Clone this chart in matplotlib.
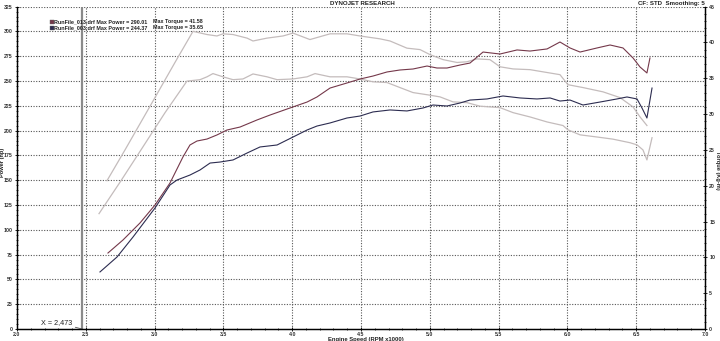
import matplotlib
matplotlib.use("Agg")
import matplotlib.pyplot as plt
from matplotlib.ticker import MultipleLocator

# ============================ #
# Data #
# ============================ #
# RunFile_013 power (hp)
rpm_pwr_013 = [2.661, 2.770, 2.894, 3.003, 3.112, 3.206, 3.257, 3.308, 3.381, 3.453,
               3.526, 3.621, 3.744, 3.839, 3.984, 4.108, 4.180, 4.275, 4.398, 4.493,
               4.587, 4.689, 4.783, 4.878, 4.980, 5.052, 5.125, 5.219, 5.292, 5.387,
               5.510, 5.634, 5.728, 5.852, 5.946, 6.019, 6.092, 6.215, 6.310, 6.404,
               6.477, 6.528, 6.578, 6.600]
hp_013 = [76.6, 89.7, 106.9, 125.0, 147.2, 173.4, 185.5, 189.5, 191.5, 195.6,
          200.6, 203.6, 210.7, 215.7, 222.8, 228.8, 233.9, 242.9, 248.0, 252.0,
          255.0, 259.1, 261.1, 262.1, 265.1, 263.1, 263.1, 266.1, 268.1, 279.2,
          277.2, 281.3, 280.2, 282.3, 289.3, 283.3, 279.2, 283.3, 286.3, 283.3,
          273.2, 264.1, 258.1, 273.2]

# RunFile_003 power (hp)
rpm_pwr_003 = [2.603, 2.727, 2.843, 3.003, 3.112, 3.163, 3.257, 3.330, 3.403, 3.475,
               3.570, 3.672, 3.766, 3.890, 3.984, 4.108, 4.180, 4.275, 4.398, 4.493,
               4.587, 4.711, 4.834, 4.951, 5.023, 5.125, 5.219, 5.292, 5.416, 5.532,
               5.656, 5.779, 5.874, 5.946, 6.019, 6.113, 6.237, 6.360, 6.433, 6.506,
               6.542, 6.578, 6.615]
hp_003 = [57.5, 72.6, 92.7, 122.0, 145.2, 150.2, 155.2, 160.3, 167.3, 168.3,
          170.4, 177.4, 183.5, 185.5, 192.0, 200.6, 204.6, 207.7, 212.7, 214.7,
          218.8, 220.8, 219.8, 222.8, 225.8, 224.8, 227.8, 230.8, 231.9, 234.9,
          232.9, 231.9, 232.9, 229.8, 230.8, 225.8, 228.8, 231.9, 233.9, 231.9,
          222.8, 212.7, 242.9]

# RunFile_013 torque (kg-m)
rpm_trq_013 = [2.654, 2.785, 2.967, 3.148, 3.279, 3.381, 3.453, 3.497, 3.570, 3.672,
               3.715, 3.817, 3.933, 4.006, 4.129, 4.275, 4.398, 4.493, 4.638, 4.711,
               4.834, 4.929, 5.001, 5.096, 5.198, 5.270, 5.343, 5.437, 5.510, 5.605,
               5.728, 5.852, 5.946, 6.004, 6.113, 6.259, 6.382, 6.477, 6.528, 6.578]
trq_013 = [20.7, 25.0, 31.1, 37.2, 41.55, 41.1, 40.9, 41.2, 41.1, 40.6,
           40.2, 40.6, 40.9, 41.3, 40.4, 41.2, 41.2, 40.9, 40.5, 40.2,
           39.2, 39.0, 38.3, 37.6, 37.2, 37.3, 37.7, 37.6, 36.6, 36.3,
           36.2, 35.8, 35.5, 34.1, 33.7, 33.1, 32.3, 31.0, 29.6, 28.4]

# RunFile_003 torque (kg-m)
rpm_trq_003 = [2.596, 2.749, 2.901, 3.076, 3.235, 3.330, 3.381, 3.424, 3.497, 3.570,
               3.642, 3.715, 3.817, 3.890, 4.006, 4.108, 4.166, 4.275, 4.398, 4.493,
               4.587, 4.689, 4.783, 4.878, 4.980, 5.074, 5.169, 5.270, 5.365, 5.437,
               5.510, 5.605, 5.728, 5.852, 5.968, 6.004, 6.092, 6.215, 6.331, 6.455,
               6.506, 6.549, 6.578, 6.615]
trq_003 = [16.1, 20.5, 25.0, 30.2, 34.6, 34.8, 35.2, 35.65, 35.2, 34.8,
           34.9, 35.6, 35.2, 34.8, 34.9, 35.2, 35.65, 35.2, 35.2, 34.9,
           34.5, 34.4, 33.7, 33.0, 32.7, 32.4, 31.7, 31.6, 31.1, 31.0,
           30.9, 30.2, 29.6, 28.9, 28.4, 27.8, 27.1, 26.8, 26.5, 26.0,
           25.7, 25.0, 23.6, 26.7]

legend_lines = ["RunFile_013.drf Max Power = 290.01", "RunFile_003.drf Max Power = 244.37"]
legend_torque = ["Max Torque = 41.58", "Max Torque = 35.65"]
cursor_x = 2.473

RED = "#74384a"
BLUE = "#2c2c50"
LIGHT = "#c4bcbc"
GRID = "#555555"
FS = 3.8
SMALL = dict(family="Liberation Sans", fontweight="bold", color="#222222")

# ============================ #
# Plotting                     #
# ============================ #
fig = plt.figure(figsize=(7.2, 3.41), dpi=100)
ax = fig.add_axes([17 / 720, 12 / 341, 688 / 720, 322.4 / 341])
ax2 = ax.twinx()

ax.set_xlim(2.0, 7.0)
ax.set_ylim(0, 325)
ax2.set_ylim(0, 45)

# grid
for v in range(25, 326, 25):
    ax.axhline(v, color=GRID, lw=0.8, ls=(0, (1, 1.4)), zorder=1)
for v in [2.5, 3.0, 3.5, 4.0, 4.5, 5.0, 5.5, 6.0, 6.5]:
    ax.axvline(v, color=GRID, lw=0.8, ls=(0, (1, 1.4)), zorder=1)

# cursor
ax.axvline(cursor_x, color="#8a8a8a", lw=1.6, zorder=2)
ax.annotate("X = 2,473", xy=(cursor_x, 0), xytext=(2.29, 6.5),
            fontsize=5.2, color="#222222", ha="center", va="center",
            family="Liberation Sans",
            arrowprops=dict(arrowstyle="-", color="#555555", lw=0.6,
                            shrinkA=11, shrinkB=0))

# curves
ax2.plot(rpm_trq_013, trq_013, color=LIGHT, lw=0.9, zorder=3)
ax2.plot(rpm_trq_003, trq_003, color=LIGHT, lw=0.9, zorder=3)
ax2.plot(rpm_pwr_013, [h * 45 / 325 for h in hp_013], color=RED, lw=0.8, zorder=4)
ax2.plot(rpm_pwr_003, [h * 45 / 325 for h in hp_003], color=BLUE, lw=0.8, zorder=4)

# ticks
ax.xaxis.set_major_locator(MultipleLocator(0.5))
ax.xaxis.set_minor_locator(MultipleLocator(0.1))
ax.yaxis.set_major_locator(MultipleLocator(25))
ax.yaxis.set_minor_locator(MultipleLocator(5))
ax2.yaxis.set_major_locator(MultipleLocator(5))
ax2.yaxis.set_minor_locator(MultipleLocator(1))
ax.xaxis.set_major_formatter(matplotlib.ticker.FormatStrFormatter("%.1f"))
for a in (ax, ax2):
    a.tick_params(which="major", direction="inout", length=3, width=0.6,
                  labelsize=FS, labelcolor="#333333", pad=1.5)
    a.tick_params(which="minor", direction="inout", length=1.6, width=0.5)
    for lab in a.get_xticklabels() + a.get_yticklabels():
        lab.set_family("Liberation Sans")
        lab.set_fontweight("bold")
ax.tick_params(axis="x", which="major", pad=0.6)

for s in ("left", "bottom", "right"):
    ax.spines[s].set_linewidth(0.9)
    ax2.spines[s].set_linewidth(0.9)
ax.spines["top"].set_visible(False)
ax2.spines["top"].set_visible(False)

# labels and header
fig.text(2.2 / 720, 1 - 162 / 341, "Power (hp)", rotation=90, fontsize=4.1,
         ha="center", va="center", **SMALL)
fig.text(717.8 / 720, 1 - 170 / 341, "Torque (Kg-m)", rotation=-90, fontsize=4.1,
         ha="center", va="center", **SMALL)
fig.text(366 / 720, 1 - 339.6 / 341, "Engine Speed (RPM x1000)", fontsize=4.2,
         ha="center", va="center", **SMALL)
fig.text(362 / 720, 1 - 3.5 / 341, "DYNOJET RESEARCH", fontsize=4.4,
         ha="center", va="center", **SMALL)
fig.text(705 / 720, 1 - 3.5 / 341, "CF: STD  Smoothing: 5", fontsize=4.4,
         ha="right", va="center", **SMALL)

# legend block
for i, (txt, trq, col) in enumerate(zip(legend_lines, legend_torque, [RED, BLUE])):
    yy = 1 - (22 + 6 * i) / 341
    fig.patches.append(plt.Rectangle((50 / 720, yy - 2 / 341), 3.5 / 720, 4 / 341,
                                     transform=fig.transFigure, facecolor=col,
                                     edgecolor="#666666", lw=0.3))
    fig.text(54 / 720, yy, txt, fontsize=3.9, va="center", ha="left", **SMALL)
    fig.text(153 / 720, yy, trq, fontsize=3.9, va="center", ha="left", **SMALL)

fig.savefig("out.png", dpi=100, facecolor="white")
